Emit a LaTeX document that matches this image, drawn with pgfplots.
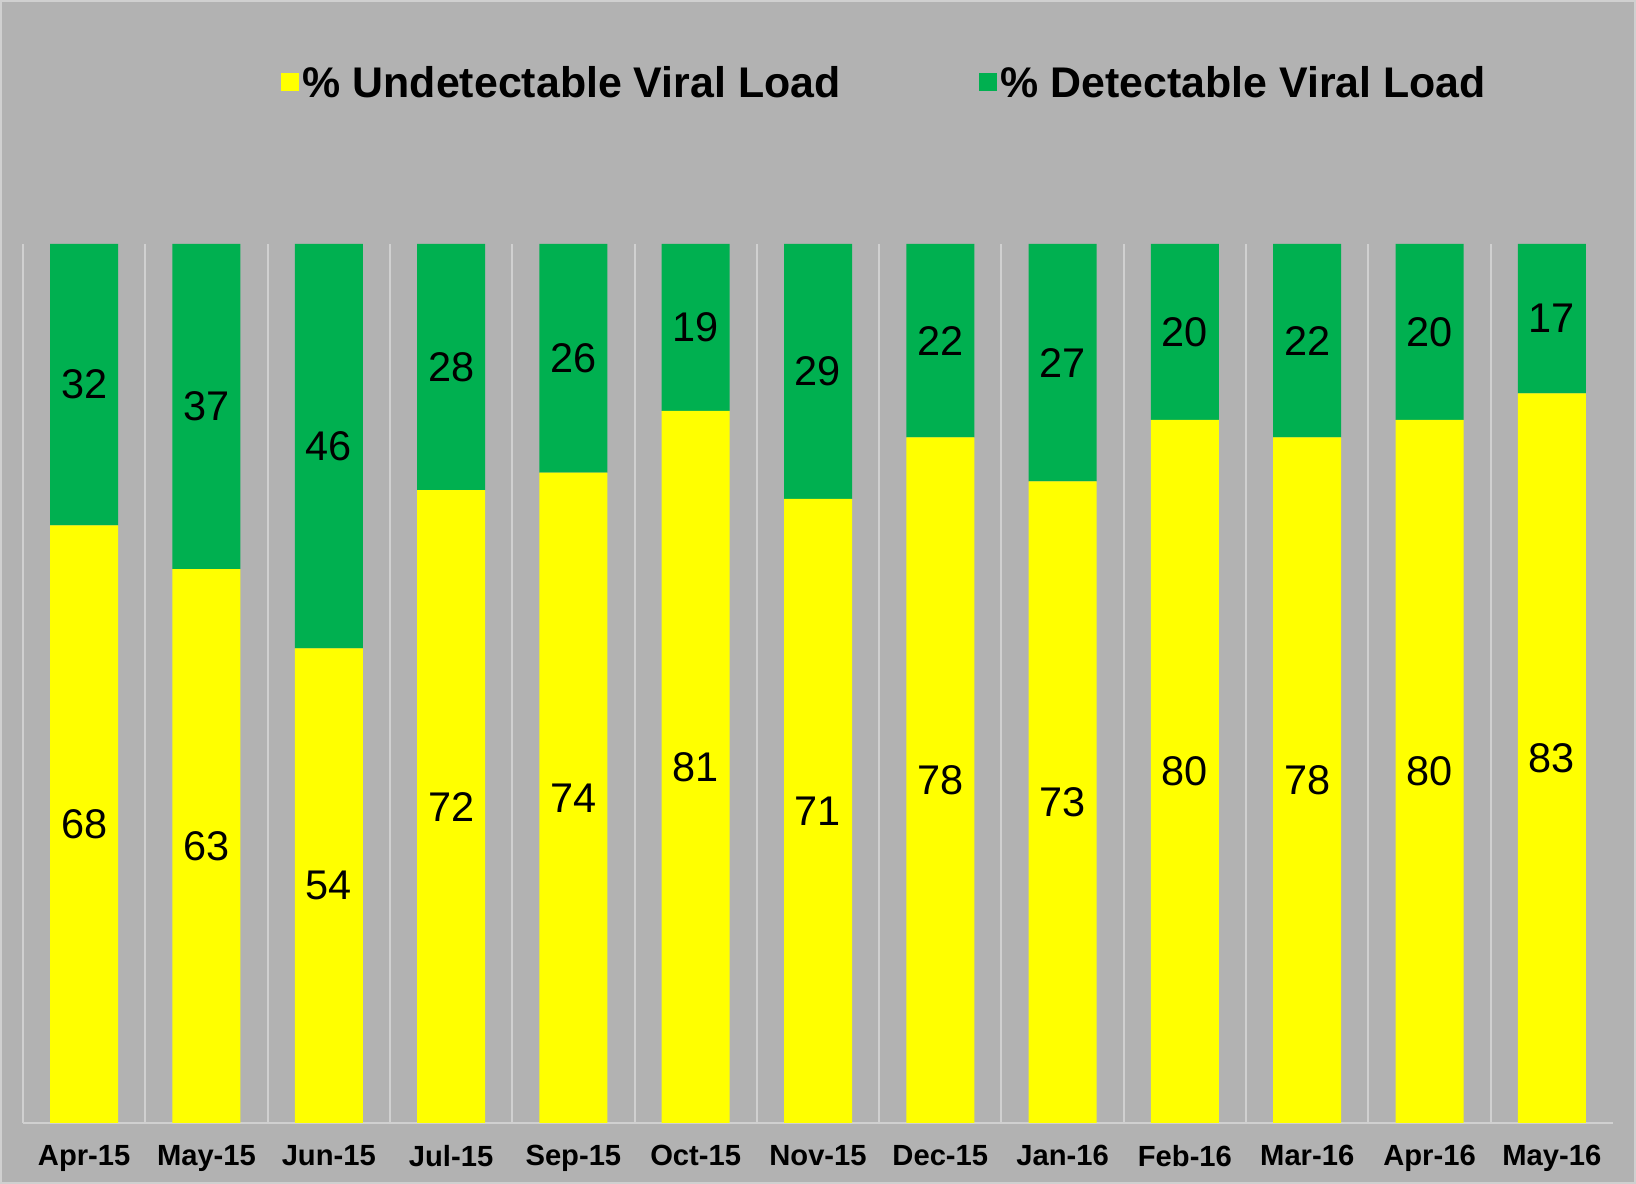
\documentclass[border=0pt]{standalone}
\usepackage{pgfplots}
\pgfplotsset{compat=1.18}
\usepackage{pgfplotstable}
\usepackage{fontspec}
\setmainfont{Liberation Sans}

\definecolor{bggray}{HTML}{B2B2B2}
\definecolor{sepgray}{HTML}{D0D0D0}
\definecolor{vlyellow}{HTML}{FFFF00}
\definecolor{vlgreen}{HTML}{00B050}

% month index, % undetectable, % detectable
\pgfplotstableread{
x  undet det
0  68 32
1  63 37
2  54 46
3  72 28
4  74 26
5  81 19
6  71 29
7  78 22
8  73 27
9  80 20
10 78 22
11 80 20
12 83 17
}\vldata

\begin{document}
\begin{tikzpicture}
  \fill[bggray] (-0.23,-0.61) rectangle (16.13,11.23);
  \draw[sepgray, line width=0.02cm] (-0.22,-0.60) rectangle (16.12,11.22);
  \begin{axis}[
      at={(0,0)}, anchor=south west,
      scale only axis,
      width=15.90cm, height=8.79cm,
      ybar stacked,
      bar width=0.68cm,
      xmin=-0.5, xmax=12.5,
      ymin=0, ymax=100,
      axis y line=none,
      axis x line*=bottom,
      x axis line style={sepgray, line width=0.02cm, -},
      xtick={0,...,12},
      xticklabels={Apr-15, May-15, Jun-15, Jul-15, Sep-15, Oct-15, Nov-15,
        Dec-15, Jan-16, Feb-16, Mar-16, Apr-16, May-16},
      x tick label style={font=\bfseries\fontsize{8.3}{10}\selectfont, text=black, yshift=-0.1cm},
      major tick length=0pt, minor tick length=0pt,
      minor xtick={-0.5,0.5,...,11.5},
      xminorgrids,
      minor grid style={sepgray, line width=0.02cm},
      /pgf/number format/assume math mode=true,
      nodes near coords={\pgfmathprintnumber{\pgfplotspointmeta}},
      every node near coord/.append style={anchor=center, text=black,
        font=\fontsize{11.8}{14}\selectfont},
      legend style={at={(0.162,1.184)}, anchor=west, draw=none, fill=none,
        inner sep=0pt, legend columns=2,
        font=\bfseries\fontsize{12.2}{14}\selectfont,
        nodes={inner sep=1pt, text depth=0pt},
        /tikz/every even column/.append style={column sep=1.35cm}},
      every axis plot post/.append style={
        legend image code/.code={\fill[##1, draw=none] (0cm,-0.09cm) rectangle (0.18cm,0.09cm);}},
    ]
    \addplot[fill=vlyellow, draw=none,
      point meta=\thisrow{undet}] table[x=x, y=undet] {\vldata};
    \addplot[fill=vlgreen, draw=none,
      point meta=\thisrow{det}] table[x=x, y=det] {\vldata};
    \legend{\% Undetectable Viral Load, \% Detectable Viral Load}
  \end{axis}
\end{tikzpicture}
\end{document}
